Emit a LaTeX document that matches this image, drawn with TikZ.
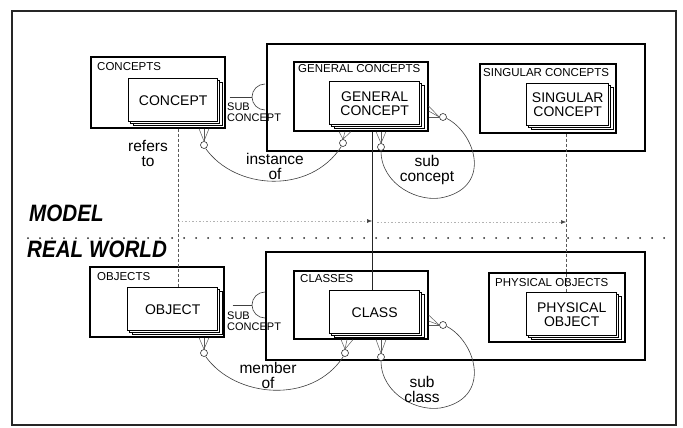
\documentclass[tikz,border=0pt]{standalone}
\usepackage{fontspec}
\setmainfont{Liberation Sans}
\usepackage{graphicx}
\usetikzlibrary{arrows.meta,calc}

\newcommand\dgCardFont{\fontsize{14}{14}\selectfont}
\newcommand\dgSetFont{\fontsize{11.5}{12}\selectfont}
\newcommand\dgRelFont{\fontsize{15.5}{15}\selectfont}
\newcommand\dgSubFont{\fontsize{11}{11}\selectfont}
\newcommand\dgLevelFont{\fontsize{23.7}{24}\selectfont\bfseries\itshape}

% stacked card: two offset back sheets behind a named front sheet
\newcommand\dgCard[6]{%
  \draw[cardback] (#2+5,#3+4) rectangle ++(#4,#5);
  \draw[cardback] (#2+2.5,#3+2) rectangle ++(#4,#5);
  \node[cardbox, minimum width=#4, minimum height=#5] (#1) at (#2,#3) {#6};}

% crow's foot from a ring up to the bottom edge of a box
\newcommand\dgCrowUp[5]{%
  \foreach \dx in {#3,#4,#5}{\draw[foot] (#1.north) -- ($(#1.north |- #2.south)+(\dx,0)$);}}

% crow's foot from a ring left to the right edge of a box
\newcommand\dgCrowLeft[5]{%
  \foreach \dy in {#3,#4,#5}{\draw[foot] (#1.west) -- ($(#1.west -| #2.east)+(0,\dy)$);}}

% half circle (subset mark) opening to the right, centred on a point
\newcommand\dgSubArc[1]{%
  \draw[rel] (#1) ++(0,-13) .. controls +(-7.2,0) and +(0,-7.2) .. ++(-13,13)
                           .. controls +(0,7.2) and +(-7.2,0) .. ++(13,13);}

\begin{document}
\begin{tikzpicture}[x=1pt,y=-1pt,
  outer/.style={draw=black!85, line width=1.3pt},
  frame/.style={draw=black, line width=1.6pt, anchor=north west, inner sep=0pt},
  cardbox/.style={draw=black, line width=1.4pt, fill=white, anchor=north west,
                  align=center, inner sep=0pt, font=\dgCardFont},
  cardback/.style={draw=black, line width=0.8pt, fill=white},
  setlabel/.style={anchor=west, inner sep=0pt, font=\dgSetFont},
  rel/.style={draw=black!75, line width=0.6pt},
  foot/.style={draw=black!65, line width=0.5pt},
  ring/.style={circle, draw=black!80, line width=0.6pt, fill=white,
               minimum size=7pt, inner sep=0pt},
  rellabel/.style={align=center, inner sep=0pt, font=\dgRelFont},
  sublabel/.style={align=left, anchor=west, inner sep=0pt, font=\dgSubFont},
  refline/.style={draw=black!65, line width=0.6pt, dash pattern=on 3pt off 2pt},
  linkline/.style={draw=black!85, line width=0.6pt},
  faint/.style={draw=black!30, line width=0.5pt, dash pattern=on 1.5pt off 2pt,
                -{Latex[length=5pt,width=4pt,black!75]}},
  separator/.style={draw=black!85, line width=2pt, line cap=round,
                    dash pattern=on 0pt off 12pt}]

\useasboundingbox (0,0) rectangle (683,428);
\fill[white] (0,0) rectangle (683,428);
\draw[outer] (12,11) rectangle (676,425);

% level captions and the boundary between them
\node[anchor=west, inner sep=0pt] (model) at (29,213)
  {\dgLevelFont\scalebox{0.87}[1]{MODEL}};
\node[anchor=west, inner sep=0pt] (realworld) at (27,249)
  {\dgLevelFont\scalebox{0.87}[1]{REAL WORLD}};
\draw[separator] (28,238) -- (672,238);

% ---------- model level ----------
\node[frame, minimum width=134, minimum height=71] (concepts) at (90,56) {};
\node[setlabel] (concepts-l) at (97,67) {CONCEPTS};
\dgCard{concept}{128}{78}{89}{43}{CONCEPT}

\node[frame, minimum width=378, minimum height=107] (modelframe) at (266,43) {};
\node[frame, minimum width=134, minimum height=69] (genconcepts) at (293,61) {};
\node[setlabel] (genconcepts-l) at (298,69) {GENERAL CONCEPTS};
\dgCard{genconcept}{329}{81}{90}{43}{GENERAL\\CONCEPT}

\node[frame, minimum width=136, minimum height=69] (singconcepts) at (479,63) {};
\node[setlabel] (singconcepts-l) at (483,73) {SINGULAR CONCEPTS};
\dgCard{singconcept}{526}{83}{82}{42}{SINGULAR\\CONCEPT}

% ---------- real world level ----------
\node[frame, minimum width=134, minimum height=70] (objects) at (89,266) {};
\node[setlabel] (objects-l) at (97,277) {OBJECTS};
\dgCard{object}{127}{287}{90}{43}{OBJECT}

\node[frame, minimum width=379, minimum height=108] (worldframe) at (265,251) {};
\node[frame, minimum width=134, minimum height=68] (classes) at (293,270) {};
\node[setlabel] (classes-l) at (300,279) {CLASSES};
\dgCard{class}{329}{290}{90}{43}{CLASS}

\node[frame, minimum width=136, minimum height=69] (physobjects) at (488,272) {};
\node[setlabel] (physobjects-l) at (495,283) {PHYSICAL OBJECTS};
\dgCard{physobject}{526}{292}{90}{43}{PHYSICAL\\OBJECT}

% ---------- links between the levels ----------
\coordinate (r1) at (178,0);
\coordinate (r2) at (372,0);
\coordinate (r3) at (566,0);
\coordinate (hy) at (0,221);
\draw[refline] (concepts.south -| r1) -- (object.north -| r1);
\draw[linkline] (genconcepts.south -| r2) -- (class.north -| r2);
\draw[refline] (singconcepts.south -| r3) -- (physobject.north -| r3);
\draw[faint] (r1 |- hy) -- (r2 |- hy);
\draw[faint] ($(r2 |- hy)+(5,1)$) -- ($(r3 |- hy)+(0,1)$);
\node[rellabel] (refersto) at (148,153) {refers\\to};

% ---------- sub concept marks ----------
\coordinate (sub1) at (265,97);
\draw[rel] ($(concepts.east |- sub1)+(4,0)$) -- ($(sub1)+(-13,0)$);
\dgSubArc{sub1}
\node[sublabel] (sub1-l) at (227,112.5) {SUB\\CONCEPT};

\coordinate (sub2) at (265,305);
\draw[rel] ($(objects.east |- sub2)+(8,0)$) -- ($(sub2)+(-13,0)$);
\dgSubArc{sub2}
\node[sublabel] (sub2-l) at (227,321.5) {SUB\\CONCEPT};

% ---------- instance of / sub concept ----------
\node[ring] (c1) at (204,145) {};
\node[ring] (c2) at (343,143) {};
\node[ring] (c3) at (381,147) {};
\node[ring] (c4) at (443,117) {};
\dgCrowUp{c1}{concepts}{-5}{0}{5}
\dgCrowUp{c2}{genconcepts}{-4}{2}{8}
\dgCrowUp{c3}{genconcepts}{-5}{0}{5}
\dgCrowLeft{c4}{genconcepts}{-11}{-6}{0}
\draw[rel] (c1.-65) .. controls (235,190) and (310,195) .. (c2.-115);
\node[rellabel] (instof) at (275,166) {instance\\of};
\coordinate (sclow) at (445,197);
\draw[rel] (c4.-20) .. controls (475,133) and (492,185) .. (sclow)
                    .. controls (420,204) and (381,185) .. (c3.south);
\node[rellabel] (subconcept) at (427,170) {sub\\concept};

% ---------- member of / sub class ----------
\node[ring] (c5) at (204,353) {};
\node[ring] (c6) at (345,353) {};
\node[ring] (c7) at (381,357) {};
\node[ring] (c8) at (443,325) {};
\dgCrowUp{c5}{objects}{-5}{0}{5}
\dgCrowUp{c6}{classes}{-4}{2}{8}
\dgCrowUp{c7}{classes}{-5}{0}{5}
\dgCrowLeft{c8}{classes}{-10}{-4}{0}
\draw[rel] (c5.-65) .. controls (235,398) and (312,405) .. (c6.-115);
\node[rellabel] (memberof) at (268,375) {member\\of};
\coordinate (sclow2) at (445,407);
\draw[rel] (c8.-20) .. controls (475,341) and (492,395) .. (sclow2)
                    .. controls (420,414) and (381,395) .. (c7.south);
\node[rellabel] (subclass) at (422,389) {sub\\class};

\end{tikzpicture}
\end{document}
